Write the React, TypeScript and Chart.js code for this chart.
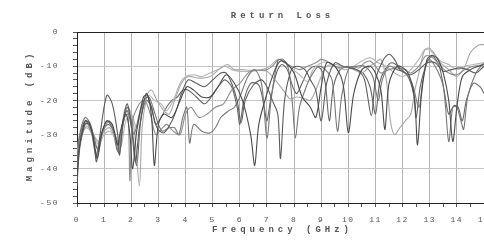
import { useEffect, useRef } from 'react';
import { Chart, registerables } from 'chart.js';

Chart.register(...registerables);

const chartTitle = 'Return Loss';
const xTitle = 'Frequency (GHz)';
const yTitle = 'Magnitude (dB)';
const xMin = 0;
const xMax = 15;
const yMin = -50;
const yMax = 0;

const series1: [number, number][] = [
  [0, -42], [0.1, -33], [0.3, -26], [0.45, -26.5], [0.6, -31], [0.75, -37], [0.9, -30], [1.1, -26], [1.3, -27], [1.5, -33],
  [1.6, -29], [1.8, -24], [1.95, -30], [2.05, -40], [2.2, -29], [2.45, -19], [2.6, -18.5], [2.75, -25], [2.85, -39], [3.0, -27],
  [3.2, -24], [3.5, -25], [3.8, -20], [4.05, -16], [4.3, -17], [4.6, -19], [4.9, -19], [5.2, -16], [5.5, -12.5], [5.8, -15],
  [6.1, -20], [6.4, -30], [6.55, -39], [6.7, -27], [7.0, -18], [7.3, -11], [7.5, -8.5], [7.7, -9], [8.0, -12], [8.3, -19],
  [8.6, -22], [8.8, -25], [9.0, -16], [9.2, -9], [9.5, -10], [9.8, -15], [10.0, -29.4], [10.2, -18], [10.5, -11], [10.8, -10],
  [11.0, -12], [11.2, -17], [11.35, -28.5], [11.5, -15], [11.8, -10], [12.1, -11], [12.3, -14], [12.45, -20], [12.55, -33], [12.7, -18],
  [12.9, -8], [13.1, -6.8], [13.3, -8], [13.5, -12], [13.7, -20], [13.85, -32], [14.0, -22], [14.2, -13], [14.5, -11], [14.8, -10], [15, -9.5],
];

const series2: [number, number][] = [
  [0, -45], [0.1, -34], [0.3, -27], [0.45, -27], [0.6, -31], [0.72, -38], [0.85, -30], [1.1, -18.5], [1.3, -21], [1.5, -30],
  [1.57, -36], [1.7, -26], [1.85, -21], [2.0, -27], [2.15, -38], [2.3, -28], [2.55, -18], [2.7, -21], [2.95, -28], [3.2, -29.5],
  [3.5, -26], [3.7, -22], [3.85, -18], [4.1, -14], [4.4, -15], [4.7, -16], [5.0, -14], [5.3, -12], [5.5, -12], [5.7, -15],
  [5.9, -20], [6.05, -26.5], [6.2, -20], [6.5, -15.5], [6.8, -14], [7.0, -16], [7.2, -20], [7.4, -24], [7.5, -37], [7.65, -20],
  [7.9, -11], [8.1, -10], [8.4, -11], [8.6, -14], [8.8, -17], [9.0, -26], [9.2, -15], [9.5, -9], [9.8, -10], [10.1, -10.5],
  [10.4, -11.5], [10.6, -14], [10.85, -24.5], [11.0, -14], [11.3, -8], [11.5, -6.5], [11.7, -8], [11.9, -11], [12.1, -12], [12.3, -12.5],
  [12.6, -11], [12.9, -9], [13.2, -9], [13.5, -11.5], [13.8, -11], [14.1, -10.5], [14.4, -11], [14.7, -12], [15, -10],
];

const series3: [number, number][] = [
  [0, -38], [0.1, -30], [0.3, -25], [0.5, -27], [0.7, -33], [0.8, -35], [0.95, -29], [1.15, -27], [1.35, -29], [1.55, -35.5],
  [1.7, -27], [1.85, -22], [2.0, -26], [2.1, -30], [2.3, -24], [2.5, -19.5], [2.65, -19], [2.8, -22], [3.0, -27], [3.15, -29],
  [3.4, -28], [3.6, -28], [3.75, -30], [3.9, -25], [4.05, -22], [4.15, -32.5], [4.3, -27], [4.6, -29], [4.9, -29.5], [5.1, -28],
  [5.3, -25], [5.6, -23], [5.8, -22], [6.0, -19], [6.3, -13], [6.55, -11], [6.8, -15], [7.0, -31], [7.15, -20], [7.4, -8.5],
  [7.6, -8], [7.8, -11], [7.95, -22], [8.05, -31], [8.2, -22], [8.5, -15], [8.7, -12], [8.9, -10], [9.15, -11], [9.4, -14],
  [9.6, -29], [9.75, -19], [10.0, -11], [10.3, -10], [10.6, -10], [10.9, -13], [11.1, -20], [11.25, -14], [11.5, -10], [11.8, -11],
  [12.1, -12], [12.35, -15], [12.6, -22], [12.75, -14], [12.95, -8], [13.2, -10], [13.5, -16], [13.7, -32], [13.85, -22], [14.0, -22],
  [14.15, -26], [14.25, -28.5], [14.4, -19], [14.7, -12], [15, -9],
];

const series4: [number, number][] = [
  [0, -40], [0.1, -31], [0.35, -26.5], [0.55, -30], [0.75, -34], [0.95, -29], [1.2, -26], [1.45, -31], [1.55, -33], [1.75, -25],
  [1.88, -24], [1.95, -43.5], [2.05, -26], [2.3, -21], [2.5, -20], [2.7, -24], [2.9, -30], [3.1, -28.5], [3.3, -27], [3.55, -29],
  [3.8, -30], [4.0, -24], [4.2, -22], [4.5, -25], [4.8, -24], [5.1, -22], [5.4, -21], [5.7, -17], [6.0, -15], [6.3, -12],
  [6.5, -11.2], [6.8, -11.2], [7.0, -11], [7.2, -10], [7.45, -8], [7.65, -9], [7.9, -10], [8.2, -11], [8.5, -10], [8.8, -9],
  [9.0, -8], [9.2, -8.5], [9.5, -10], [9.8, -10.5], [10.1, -10], [10.4, -10.5], [10.6, -9], [10.8, -8.5], [11.0, -10], [11.2, -12],
  [11.5, -11], [11.8, -10.5], [12.1, -11], [12.3, -12], [12.6, -10], [12.85, -7], [13.1, -7.5], [13.4, -10], [13.7, -12], [14.0, -12.5],
  [14.3, -11], [14.6, -10], [15, -9.5],
];

const series5: [number, number][] = [
  [0, -42], [0.1, -33], [0.35, -27.5], [0.6, -30], [0.8, -32], [1.0, -29], [1.2, -28], [1.4, -31], [1.55, -34], [1.75, -23],
  [1.9, -22], [2.1, -28], [2.3, -45], [2.4, -28], [2.6, -18], [2.75, -17], [2.95, -20], [3.2, -23], [3.4, -24], [3.6, -20],
  [3.85, -15], [4.1, -13], [4.5, -13.5], [4.9, -13], [5.3, -10.5], [5.55, -9.5], [5.8, -11], [6.1, -11], [6.4, -11.2], [6.7, -11.2],
  [7.0, -11.5], [7.3, -14], [7.6, -17], [7.85, -19.5], [8.1, -19], [8.4, -19.5], [8.6, -20], [8.8, -17], [9.0, -13], [9.2, -10],
  [9.5, -9.5], [9.8, -10], [10.2, -11], [10.5, -12], [10.8, -10], [11.0, -9], [11.2, -8], [11.4, -14], [11.55, -26], [11.7, -30],
  [11.9, -28], [12.1, -26], [12.3, -24], [12.45, -17], [12.6, -12], [12.8, -5.5], [12.95, -4.7], [13.1, -5.5], [13.4, -9], [13.7, -11],
  [14.0, -13], [14.3, -10], [14.5, -6], [14.8, -3.8], [15, -3.7],
];

const series6: [number, number][] = [
  [0, -36], [0.1, -30], [0.35, -28], [0.6, -30], [0.8, -33], [1.0, -30], [1.2, -29], [1.4, -31], [1.6, -34], [1.8, -26],
  [2.0, -24], [2.2, -28], [2.4, -22], [2.65, -18.5], [2.85, -20], [3.1, -21], [3.3, -23], [3.55, -20], [3.8, -15], [4.0, -13],
  [4.3, -12.5], [4.6, -13], [4.9, -12], [5.2, -11], [5.45, -10], [5.7, -11], [6.0, -11.5], [6.4, -11.5], [6.8, -11], [7.1, -10],
  [7.4, -8], [7.6, -8.5], [7.9, -10.5], [8.2, -12.5], [8.5, -14.5], [8.7, -11], [9.0, -9], [9.3, -9], [9.6, -10.5], [9.9, -11],
  [10.2, -10], [10.5, -8.5], [10.8, -7.5], [11.1, -9], [11.4, -10], [11.7, -12], [12.0, -13], [12.3, -11], [12.6, -8], [12.85, -5],
  [13.1, -6], [13.4, -8.5], [13.7, -9.5], [14.0, -11], [14.3, -10], [14.6, -9.5], [15, -9],
];

const series7: [number, number][] = [
  [0, -39], [0.1, -31], [0.3, -26], [0.5, -28], [0.7, -36], [0.85, -31], [1.1, -26], [1.3, -28], [1.5, -35], [1.65, -28],
  [1.85, -23], [2.05, -30], [2.2, -39], [2.35, -26], [2.55, -20], [2.75, -22], [2.9, -27], [3.1, -25], [3.3, -22], [3.5, -20],
  [3.7, -19], [3.9, -17], [4.1, -17], [4.4, -19], [4.7, -21], [4.95, -19], [5.2, -16], [5.45, -14], [5.7, -16], [5.9, -22],
  [6.0, -27], [6.15, -20], [6.4, -15], [6.7, -15.5], [6.9, -22], [7.0, -26], [7.15, -19], [7.35, -12], [7.55, -9.5], [7.75, -11],
  [7.95, -16], [8.1, -18], [8.35, -14], [8.55, -11], [8.8, -10], [9.0, -11], [9.15, -15], [9.3, -26], [9.45, -16], [9.7, -11],
  [10.0, -10], [10.3, -11], [10.55, -12], [10.8, -16], [11.0, -24], [11.15, -15], [11.35, -11], [11.6, -9], [11.9, -10.5], [12.2, -13],
  [12.4, -18], [12.5, -25], [12.65, -16], [12.9, -9], [13.1, -7], [13.35, -10], [13.55, -18], [13.7, -24], [13.9, -21.5], [14.05, -22],
  [14.2, -26], [14.35, -20], [14.6, -15], [14.85, -16], [15, -18],
];

const allSeries = [series1, series2, series3, series4, series5, series6, series7];
const seriesColors = ['#4a4a4a', '#5c5c5c', '#787878', '#8e8e8e', '#a8a8a8', '#b6b6b6', '#666666'];

export default function App() {
  const ref = useRef<HTMLCanvasElement>(null);

  useEffect(() => {
    document.body.style.margin = '0';
    const canvas = ref.current;
    if (!canvas) return;

    const titlesPlugin = {
      id: 'titles',
      beforeLayout(chart: any) {
        chart.ctx.letterSpacing = '1.5px';
      },
      beforeDraw(chart: any) {
        const ctx = chart.ctx;
        ctx.save();
        ctx.fillStyle = '#ffffff';
        ctx.fillRect(0, 0, chart.width, chart.height);
        ctx.restore();
        ctx.letterSpacing = '1.5px';
      },
      afterDraw(chart: any) {
        const ctx = chart.ctx;
        const a = chart.chartArea;
        const cx = (a.left + a.right) / 2;
        ctx.save();
        ctx.letterSpacing = '4px';
        ctx.font = 'bold 9px "Liberation Mono"';
        ctx.fillStyle = '#555555';
        ctx.textAlign = 'center';
        ctx.textBaseline = 'middle';
        ctx.fillText(chartTitle, cx + 2, 16);
        ctx.fillText(xTitle, cx + 2, 230);
        ctx.translate(30, (a.top + a.bottom) / 2);
        ctx.rotate(-Math.PI / 2);
        ctx.fillText(yTitle, 2, 0);
        ctx.restore();
      },
    };

    const chart = new Chart(canvas, {
      type: 'line',
      data: {
        datasets: allSeries.map((s, i) => ({
          data: s as any,
          borderColor: seriesColors[i],
          borderWidth: 1.1,
          pointRadius: 0,
          tension: 0.3,
          fill: false,
        })),
      },
      options: {
        responsive: false,
        animation: false,
        devicePixelRatio: 1,
        layout: { padding: { top: 32, left: 0, right: 0, bottom: 0 } },
        plugins: {
          legend: { display: false },
          title: { display: false },
          tooltip: { enabled: false },
        },
        scales: {
          x: {
            type: 'linear',
            min: xMin,
            max: xMax,
            ticks: {
              stepSize: 0.5,
              autoSkip: false,
              maxRotation: 0,
              padding: 8,
              color: '#555555',
              font: { family: '"Liberation Mono"', size: 8 },
              callback: (v: any) => (Number.isInteger(v) ? String(v) : ''),
            },
            grid: {
              color: (c: any) =>
                c.tick && Number.isInteger(c.tick.value) ? '#b4b4b4' : 'rgba(0,0,0,0)',
              tickColor: '#555555',
              tickLength: 4,
              lineWidth: 1,
            },
            border: { color: '#222222', width: 1 },
            afterFit: (s: any) => {
              s.height = 44;
              s.paddingLeft = 0;
              s.paddingRight = 0;
            },
          },
          y: {
            type: 'linear',
            min: yMin,
            max: yMax,
            ticks: {
              stepSize: 2,
              autoSkip: false,
              padding: 14,
              color: '#555555',
              font: { family: '"Liberation Mono"', size: 8 },
              callback: (v: any) => (v % 10 === 0 ? String(v) : ''),
            },
            grid: {
              color: (c: any) => {
                if (!c.tick) return 'rgba(0,0,0,0)';
                if (c.tick.value === 0) return '#222222';
                return c.tick.value % 10 === 0 ? '#c4c4c4' : 'rgba(0,0,0,0)';
              },
              tickColor: '#555555',
              tickLength: 4,
              lineWidth: 1,
            },
            border: { color: '#222222', width: 1 },
            afterFit: (s: any) => {
              s.width = 77;
              s.paddingTop = 0;
              s.paddingBottom = 0;
            },
          },
        },
      },
      plugins: [titlesPlugin],
    });

    return () => {
      chart.destroy();
    };
  }, []);

  return (
    <div>
      <canvas ref={ref} width={484} height={247} style={{ display: 'block' }} />
    </div>
  );
}
